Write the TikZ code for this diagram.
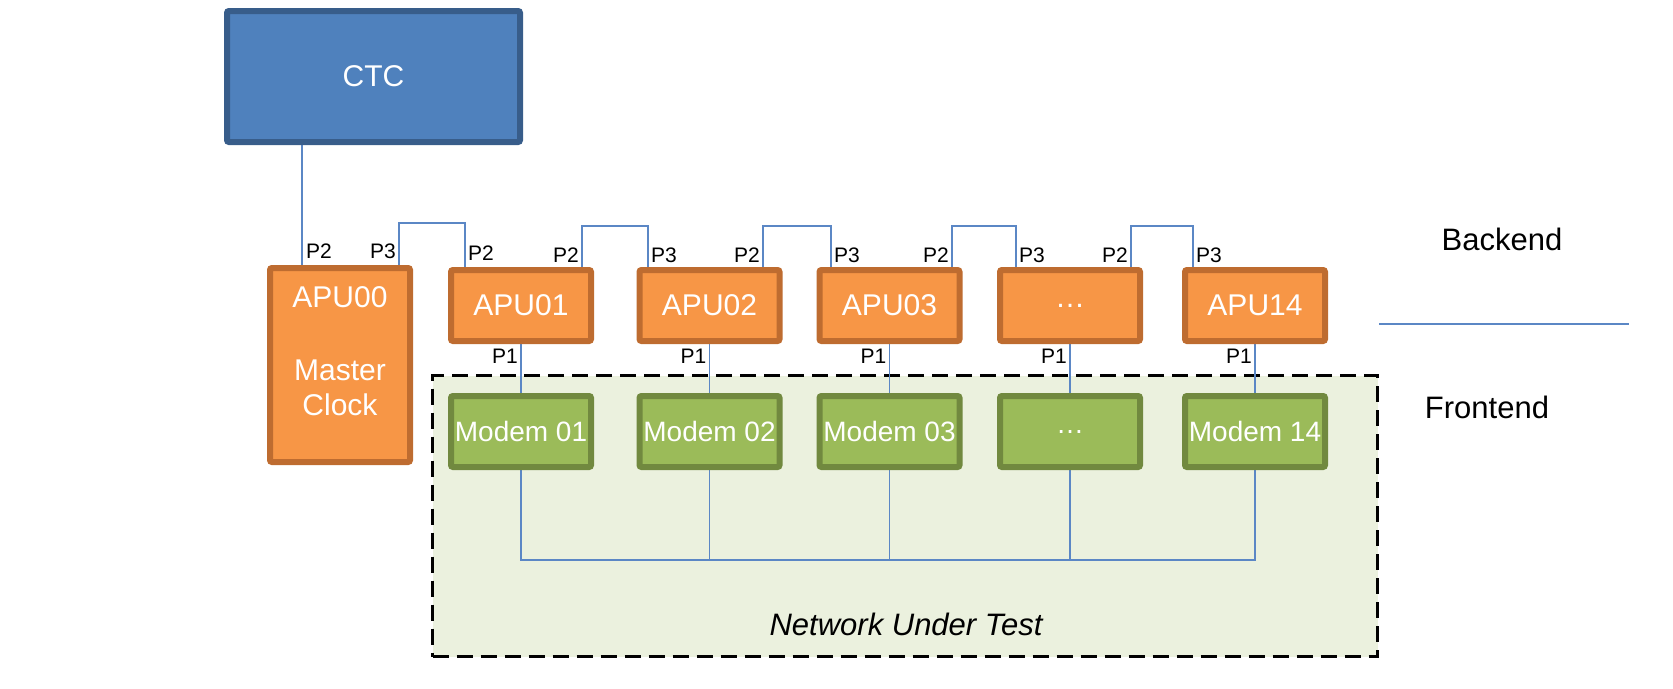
\documentclass[tikz,border=0pt]{standalone}
\usepackage{fontspec}
\setmainfont{Liberation Sans}
\usetikzlibrary{backgrounds,calc}
\definecolor{ctcfill}{HTML}{4F81BD}
\definecolor{ctcborder}{HTML}{385D8A}
\definecolor{apufill}{HTML}{F79646}
\definecolor{apuborder}{HTML}{BE6C30}
\definecolor{modfill}{HTML}{9BBB59}
\definecolor{modborder}{HTML}{71893F}
\definecolor{nutfill}{HTML}{EBF1DE}
\definecolor{wire}{HTML}{5B87C5}
\begin{document}
\begin{tikzpicture}[x=1pt,y=-1pt,
  boxbase/.style={line width=6pt, inner sep=0pt, text=white, rounded corners=2pt},
  ctcbox/.style={boxbase, draw=ctcborder, fill=ctcfill, minimum width=293pt, minimum height=131pt, font=\fontsize{30}{36}\selectfont},
  apubox/.style={boxbase, draw=apuborder, fill=apufill, minimum width=140pt, minimum height=71pt, font=\fontsize{30}{36}\selectfont},
  modbox/.style={boxbase, draw=modborder, fill=modfill, minimum width=140pt, minimum height=71pt, font=\fontsize{28}{34}\selectfont},
  wireline/.style={draw=wire, line width=1.4pt},
  plabel/.style={inner sep=0pt, font=\fontsize{21}{24}\selectfont},
  sidetext/.style={inner sep=0pt, font=\fontsize{31}{36}\selectfont}]
\useasboundingbox (0,0) rectangle (1673,688);

% boxes
\node[ctcbox] (ctc) at (373.5,76.5) {CTC};
\node[apubox, minimum height=194pt] (A0) at (340,365) {};
\node[inner sep=0pt, text=white, align=center, font=\fontsize{30}{35}\selectfont] (A0txt) at (340,351.5) {APU00\\[38pt]Master\\Clock};
\node[apubox] (A1) at (521,305.5) {APU01};
\node[apubox] (A2) at (709.5,305.5) {APU02};
\node[apubox] (A3) at (889.5,305.5) {APU03};
\node[apubox] (A4) at (1070,305.5) {\dots};
\node[apubox] (A5) at (1255,305.5) {APU14};

\node[modbox] (M1) at (521,431.5) {Modem 01};
\node[modbox] (M2) at (709.5,431.5) {Modem 02};
\node[modbox] (M3) at (889.5,431.5) {Modem 03};
\node[modbox] (M4) at (1070,431.5) {\dots};
\node[modbox] (M5) at (1255,431.5) {Modem 14};

\node[sidetext, font=\fontsize{31}{36}\selectfont\itshape] (nuttext) at (906,624) {Network Under Test};

% side labels
\node[sidetext] (backend) at (1502,239) {Backend};
\node[sidetext] (frontend) at (1487,407) {Frontend};
\coordinate (sepL) at (1379,324);
\coordinate (sepR) at (1629,324);
\coordinate (bus) at (0,560);
\coordinate (ctcx) at (302,0);

\begin{scope}[on background layer]
% network under test area
\node[draw=black, line width=3pt, dash pattern=on 16pt off 8pt, fill=nutfill,
      minimum width=945pt, minimum height=281pt, inner sep=0pt] (nut) at (905,516) {};
\draw[wireline] (sepL) -- (sepR);
\draw[wireline] (ctc.south -| ctcx) -- (A0.north -| ctcx);
\draw[wireline] ([xshift=59pt]A0.north) -- ++(0,-42) -| ([xshift=-56pt]A1.north);
\draw[wireline] ([xshift=61pt]A1.north) -- ++(0,-41) -| ([xshift=-61.5pt]A2.north);
\draw[wireline] ([xshift=53.5pt]A2.north) -- ++(0,-41) -| ([xshift=-58.5pt]A3.north);
\draw[wireline] ([xshift=62.5pt]A3.north) -- ++(0,-41) -| ([xshift=-54pt]A4.north);
\draw[wireline] ([xshift=61pt]A4.north) -- ++(0,-41) -| ([xshift=-62pt]A5.north);
\foreach \i in {1,...,5} {
  \draw[wireline] (A\i.south) -- (M\i.north);
}
\draw[wireline] (M1.south) -- (M1.south |- bus) -- (M5.south |- bus) -- (M5.south);
\foreach \i in {2,3,4} {
  \draw[wireline] (M\i.south) -- (M\i.south |- bus);
}
\end{scope}

% port labels
\node[plabel, anchor=base west] (l0a) at (306,258) {P2};
\node[plabel, anchor=base east] (l0b) at (396,258) {P3};
\node[plabel, anchor=base west] (l1a) at (468,260) {P2};
\node[plabel, anchor=base east] (l1b) at (579,262) {P2};
\node[plabel, anchor=base west] (l2a) at (651,262) {P3};
\node[plabel, anchor=base east] (l2b) at (760,262) {P2};
\node[plabel, anchor=base west] (l3a) at (834,262) {P3};
\node[plabel, anchor=base east] (l3b) at (949,262) {P2};
\node[plabel, anchor=base west] (l4a) at (1019,262) {P3};
\node[plabel, anchor=base east] (l4b) at (1128,262) {P2};
\node[plabel, anchor=base west] (l5a) at (1196,262) {P3};
\node[plabel, anchor=base east] (p1) at (518,363) {P1};
\node[plabel, anchor=base east] (p2) at (706.5,363) {P1};
\node[plabel, anchor=base east] (p3) at (886.5,363) {P1};
\node[plabel, anchor=base east] (p4) at (1067,363) {P1};
\node[plabel, anchor=base east] (p5) at (1252,363) {P1};
\end{tikzpicture}
\end{document}
